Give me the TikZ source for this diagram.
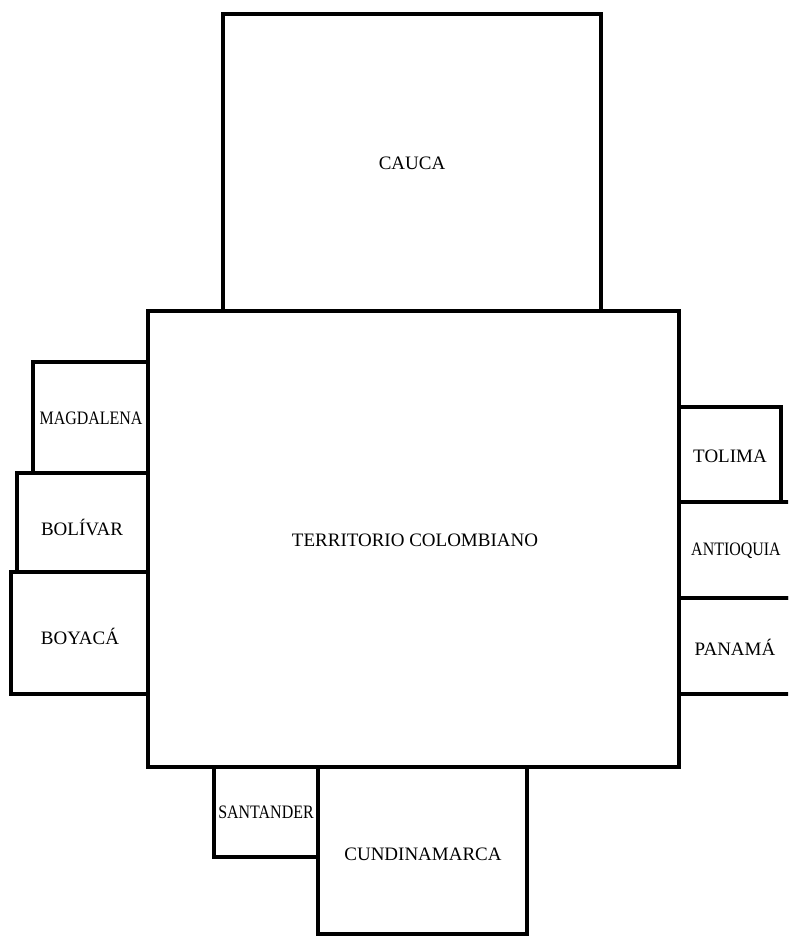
\documentclass[tikz,border=0pt]{standalone}
\usepackage{fontspec}
\setmainfont{Liberation Serif}
\newfontfamily\condfont[FakeStretch=0.84]{Liberation Serif}
\begin{document}
\begin{tikzpicture}[x=1pt,y=-1pt,
  region/.style={draw=black,line width=3.8pt,line join=miter},
  lbl/.style={font=\fontsize{19}{22}\selectfont,inner sep=0pt},
  clbl/.style={font=\condfont\fontsize{19}{22}\selectfont,inner sep=0pt}]
\useasboundingbox (0,0) rectangle (788,936);
\begin{scope}
\clip (0,0) rectangle (788,936);
% left side
\draw[region] (33,362) rectangle (148,473);
\draw[region] (17,473) rectangle (148,572);
\draw[region] (11,572) rectangle (148,694);
% right side
\draw[region] (679,407) rectangle (781,502);
\draw[region] (679,502) rectangle (800,598);
\draw[region] (679,598) rectangle (800,694);
% bottom
\draw[region] (214,767) rectangle (318,857);
\draw[region] (318,767) rectangle (527,934);
% top
\draw[region] (223,14) rectangle (601,311);
% main
\draw[region] (148,311) rectangle (679,767);
\end{scope}
\node[lbl] (cauca) at (412,163) {CAUCA};
\node[lbl] (terr) at (415,540) {TERRITORIO COLOMBIANO};
\node[clbl] (magd) at (91,418) {MAGDALENA};
\node[lbl] (boli) at (82,527) {BOLÍVAR};
\node[lbl] (boya) at (80,636) {BOYACÁ};
\node[lbl] (toli) at (730,456) {TOLIMA};
\node[clbl] (anti) at (736,551) {ANTIOQUIA};
\node[lbl] (pana) at (735,647) {PANAMÁ};
\node[clbl] (sant) at (266,812) {SANTANDER};
\node[lbl] (cund) at (423,854) {CUNDINAMARCA};
\end{tikzpicture}
\end{document}
